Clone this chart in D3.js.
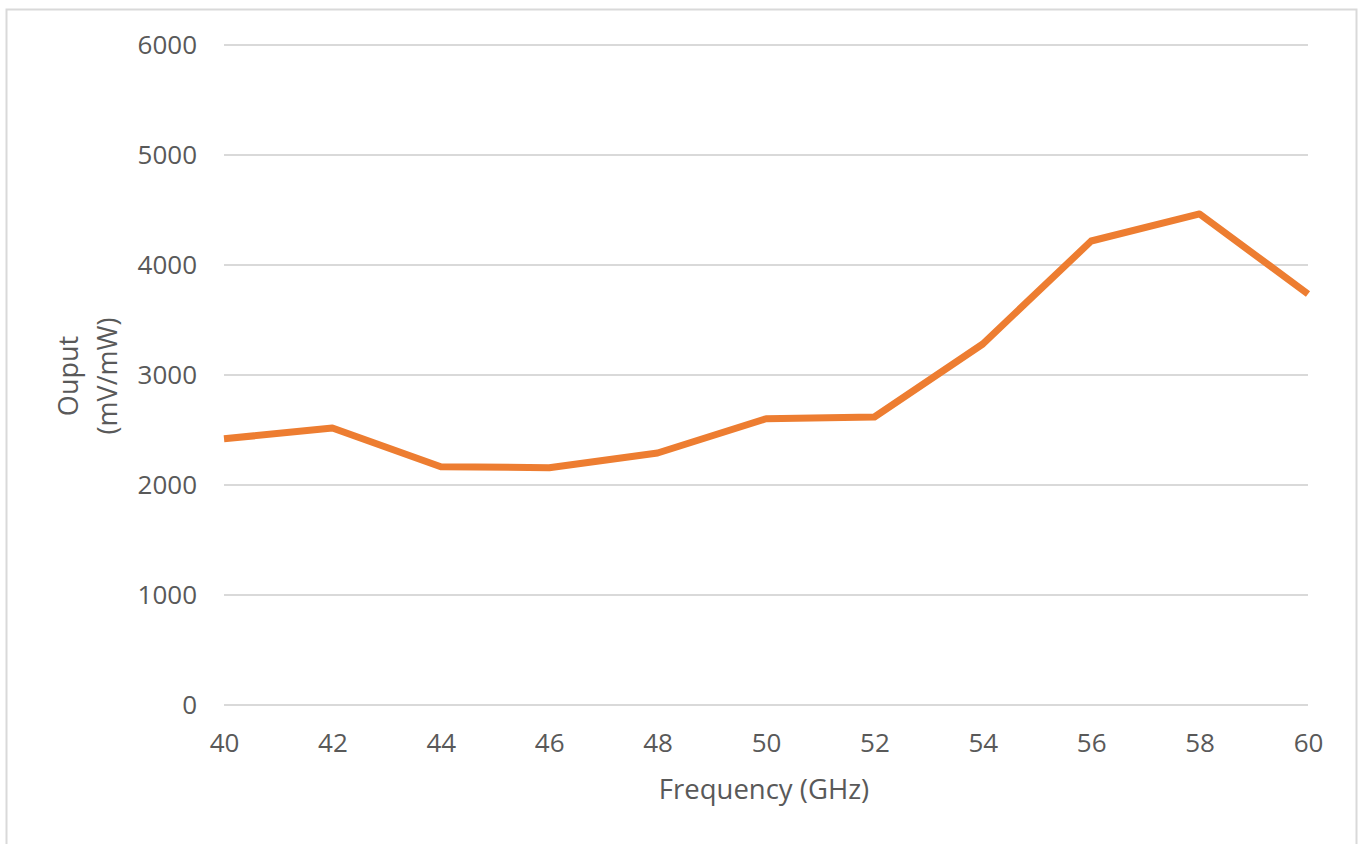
<!DOCTYPE html>
<html><head><meta charset="utf-8">
<script src="https://cdn.jsdelivr.net/npm/d3@7"></script>
<style>
html,body{margin:0;padding:0;background:#fff;}
svg{display:block;}
text{font-family:"Open Sans",sans-serif;fill:#595959;}
</style></head>
<body>
<svg id="chart" width="1360" height="844"></svg>
<script>
const frequencies = [40, 42, 44, 46, 48, 50, 52, 54, 56, 58, 60];
const outputValues = [2420, 2518, 2166, 2157, 2291, 2602, 2618, 3282, 4218, 4464, 3736];
const yTicks = [0, 1000, 2000, 3000, 4000, 5000, 6000];
const xTicks = [40, 42, 44, 46, 48, 50, 52, 54, 56, 58, 60];

const svg = d3.select("#chart");
svg.append("rect").attr("x", 6.5).attr("y", 9.5).attr("width", 1350).attr("height", 850)
  .attr("fill", "#fff").attr("stroke", "#d9d9d9").attr("stroke-width", 2);

const x = d3.scaleLinear().domain([40, 60]).range([224, 1308]);
const y = d3.scaleLinear().domain([0, 6000]).range([705, 45]);

const grid = svg.append("g");
grid.selectAll("line").data(yTicks).join("line")
  .attr("x1", x(40)).attr("x2", x(60))
  .attr("y1", d => y(d)).attr("y2", d => y(d))
  .attr("stroke", "#d9d9d9").attr("stroke-width", 2);

const yAxis = d3.axisLeft(y).tickValues(yTicks).tickSize(0).tickPadding(27).tickFormat(d3.format("d"));
svg.append("g").attr("transform", `translate(${x(40)},0)`).call(yAxis)
  .call(g => g.select(".domain").remove())
  .selectAll("text").attr("font-size", 26).attr("font-family", "Open Sans").attr("fill", "#595959");

const xAxis = d3.axisBottom(x).tickValues(xTicks).tickSize(0).tickPadding(29).tickFormat(d3.format("d"));
svg.append("g").attr("transform", `translate(0,${y(0)})`).call(xAxis)
  .call(g => g.select(".domain").remove())
  .selectAll("text").attr("font-size", 26).attr("font-family", "Open Sans").attr("fill", "#595959");

const line = d3.line().x((d, i) => x(frequencies[i])).y(d => y(d));
svg.append("path").datum(outputValues).attr("d", line)
  .attr("fill", "none").attr("stroke", "#ED7D31").attr("stroke-width", 7)
  .attr("stroke-linejoin", "round").attr("stroke-linecap", "butt");

svg.append("text").attr("x", 764).attr("y", 799).attr("text-anchor", "middle")
  .attr("font-size", 27.5).text("Frequency (GHz)");

const yl = svg.append("text").attr("transform", "translate(0,376) rotate(-90)")
  .attr("text-anchor", "middle").attr("font-size", 27);
yl.append("tspan").attr("x", 0).attr("y", 78).text("Ouput");
yl.append("tspan").attr("x", 0).attr("y", 117).text("(mV/mW)");
</script>
</body></html>
